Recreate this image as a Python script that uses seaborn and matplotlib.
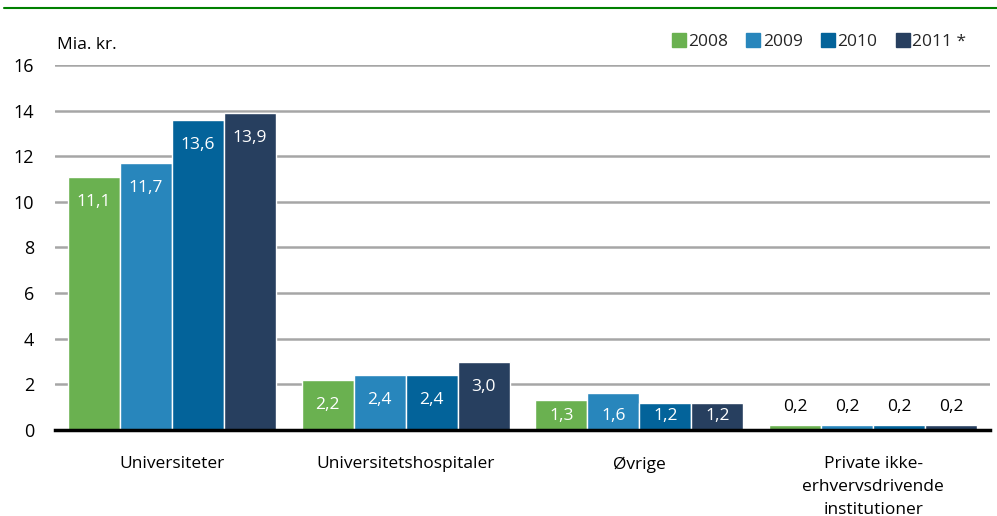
import pandas as pd
import seaborn as sns
import matplotlib.pyplot as plt
from matplotlib.lines import Line2D

categories = ['Universiteter', 'Universitetshospitaler', 'Øvrige',
              'Private ikke-\nerhvervsdrivende\ninstitutioner']
years = ['2008', '2009', '2010', '2011 *']
v2008 = [11.1, 2.2, 1.3, 0.2]
v2009 = [11.7, 2.4, 1.6, 0.2]
v2010 = [13.6, 2.4, 1.2, 0.2]
v2011 = [13.9, 3.0, 1.2, 0.2]
colors = ['#6ab150', '#2886bc', '#03639a', '#273f5f']

rows = []
for yr, vals in zip(years, [v2008, v2009, v2010, v2011]):
    for cat, v in zip(categories, vals):
        rows.append({'kategori': cat, 'aar': yr, 'vaerdi': v})
df = pd.DataFrame(rows)

sns.set_theme(style="white")
plt.rcParams['font.family'] = ['Open Sans', 'DejaVu Sans']
fs = 12.5

fig = plt.figure(figsize=(9.97, 5.16), dpi=100)
ax = fig.add_axes([0.0552, 0.1667, 0.9378, 0.7074])

sns.barplot(data=df, x='kategori', y='vaerdi', hue='aar', palette=colors,
            width=0.89, gap=0, saturation=1, ax=ax, legend=True, zorder=3)

ax.set_xlim(-0.5, 3.5)
ax.set_ylim(0, 16)
ax.set_yticks(range(0, 17, 2))
ax.yaxis.grid(True, color='#a6a6a6', linewidth=1.8, zorder=0)
ax.set_axisbelow(True)
for s in ['top', 'right', 'left']:
    ax.spines[s].set_visible(False)
ax.spines['bottom'].set_color('black')
ax.spines['bottom'].set_linewidth(2.5)
ax.spines['bottom'].set_zorder(5)
ax.tick_params(axis='y', length=0, labelsize=fs + 0.5, pad=15, colors='black')
ax.tick_params(axis='x', length=0, labelsize=fs, pad=19, colors='black')
for t in ax.get_xticklabels():
    t.set_linespacing(1.55)
ax.set_xlabel('')
ax.set_ylabel('')

# value labels
for p in ax.patches:
    h = p.get_height()
    if h == 0 or p.get_width() == 0:
        continue
    xc = p.get_x() + p.get_width() / 2
    lab = f'{h:.1f}'.replace('.', ',')
    if h < 0.5:
        ax.text(xc, 1.0, lab, ha='center', va='center', fontsize=fs, color='black', zorder=6)
    else:
        ax.text(xc, max(h - 1.1, 0.6), lab, ha='center', va='center', fontsize=fs,
                color='white', zorder=6)

ax.legend_.remove()
handles = [Line2D([], [], marker='s', linestyle='none', markersize=9.5, color=c) for c in colors]
fig.legend(handles, years, loc='center right', bbox_to_anchor=(0.985, 0.918), ncol=4,
           frameon=False, fontsize=fs, handletextpad=0.1, columnspacing=1.0,
           handlelength=0.9)

fig.text(0.057, 0.912, 'Mia. kr.', fontsize=fs, ha='left', va='center', color='black')

# top rule
fig.add_artist(Line2D([0.004, 1.0], [0.985, 0.985], color='#008000', linewidth=1.5))

fig.savefig('out.png', dpi=100)
